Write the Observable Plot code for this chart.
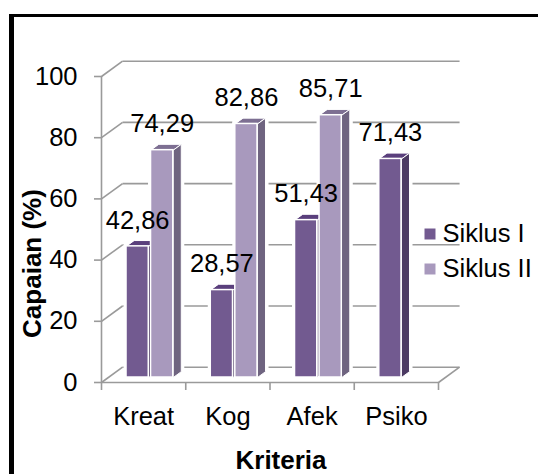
<!DOCTYPE html>
<html><head><meta charset="utf-8">
<script src="https://cdn.jsdelivr.net/npm/d3@7"></script>
<script src="https://cdn.jsdelivr.net/npm/@observablehq/plot@0.6"></script>
<style>
html,body{margin:0;padding:0;background:#fff;width:538px;height:474px;overflow:hidden}
#frame{position:absolute;left:9px;top:14px;right:0;bottom:0;border-left:5px solid #000;border-top:3px solid #000;pointer-events:none}
#chart{position:absolute;left:0;top:0}
svg{font-family:"Liberation Sans",Arial,sans-serif}
</style></head><body>
<div id="chart"></div><div id="frame"></div>
<script>
const categories = ["Kreat","Kog","Afek","Psiko"];
const siklusI = [42.86,28.57,51.43,71.43];
const siklusII = [74.29,82.86,85.71,null];
const labels = ["42,86","28,57","51,43","71,43"];
const labelsII = ["74,29","82,86","85,71",null];
const yTicks = [0,20,40,60,80,100];
const edges = [0,1,2,3,4];
const seriesNames = ["Siklus I","Siklus II"];

const wallDx = 0.25, wallDy = 5, barDx = 0.095, barDy = 1.9;
const grid = "#9a9a9a";
const styles = [
  {name:seriesNames[0], a:0.297, b:0.561, front:"#725a90", top:"#5a3f7c", side:"#4c3a63", values:siklusI, text:labels},
  {name:seriesNames[1], a:0.588, b:0.852, front:"#a899bd", top:"#7d6f92", side:"#6f6480", values:siklusII, text:labelsII}
];
const fronts=[], faces=[], texts=[];
categories.forEach((c,i)=>styles.forEach((s,k)=>{
  const v=s.values[i]; if(v==null) return;
  const x1=i+s.a,x2=i+s.b;
  fronts.push({x1,x2,y:v,fill:s.front});
  texts.push({x:(x1+x2)/2,y:v,t:s.text[i]});
  const side=`s${i}${k}`, top=`t${i}${k}`;
  faces.push(
    {z:top,fill:s.top,x:x1,y:v},{z:top,fill:s.top,x:x2,y:v},{z:top,fill:s.top,x:x2+barDx,y:v+barDy},{z:top,fill:s.top,x:x1+barDx,y:v+barDy},
    {z:side,fill:s.side,x:x2,y:0},{z:side,fill:s.side,x:x2+barDx,y:barDy},{z:side,fill:s.side,x:x2+barDx,y:v+barDy},{z:side,fill:s.side,x:x2,y:v});
}));
const barsOffset=-5;
const font=25.5;
const bold=26;
const left=101, top0=76;
const plot = Plot.plot({
  width:538,height:474,marginLeft:left,marginRight:100,marginTop:top0,marginBottom:92,
  style:{background:"transparent",fontFamily:'"Liberation Sans",Arial,sans-serif',color:"#000"},
  x:{type:"linear",domain:[0,4],label:null},
  y:{domain:[0,100],label:null},
  marks:[
    Plot.link(yTicks,{x1:wallDx,x2:4+wallDx,y1:d=>d+wallDy,y2:d=>d+wallDy,stroke:grid,strokeWidth:1.6}),
    Plot.link(yTicks,{x1:0,x2:wallDx,y1:d=>d,y2:d=>d+wallDy,stroke:grid,strokeWidth:1.6}),
    Plot.link([0],{x1:4,x2:4+wallDx,y1:0,y2:wallDy,stroke:grid,strokeWidth:1.6}),
    Plot.ruleX([0],{y1:0,y2:100,stroke:grid,strokeWidth:1.6}),
    Plot.ruleY([0],{x1:0,x2:4,stroke:grid,strokeWidth:1.6}),
    Plot.axisY({ticks:yTicks,tickSize:7,tickPadding:17,stroke:grid,strokeWidth:1.6,color:"#000",fill:"#000",fontSize:font,label:null}),
    Plot.axisX({ticks:edges,tickSize:8,tickFormat:()=>"",stroke:grid,strokeWidth:1.6,label:null}),
    Plot.axisX({ticks:[0.5,1.5,2.5,3.5],tickSize:0,tickPadding:24,tickFormat:d=>categories[Math.floor(d)],fontSize:font,fill:"#000",label:null}),
    // white halo
    Plot.line(faces,{x:"x",y:"y",z:"z",curve:"linear-closed",fill:"#fff",stroke:"#fff",strokeWidth:6,dy:barsOffset}),
    Plot.rect(fronts,{x1:"x1",x2:"x2",y1:0,y2:"y",fill:"#fff",stroke:"#fff",strokeWidth:5,dy:barsOffset}),
    ...styles.map((s,k)=>[
      Plot.line(faces.filter(f=>f.fill===s.top||f.fill===s.side),{x:"x",y:"y",z:"z",fill:"fill",curve:"linear-closed",stroke:"#fff",strokeWidth:1,dy:barsOffset}),
      Plot.rect(fronts.filter(f=>f.fill===s.front),{x1:"x1",x2:"x2",y1:0,y2:"y",fill:"fill",stroke:"#fff",strokeWidth:1.5,dy:barsOffset})
    ]).flat(),
    Plot.text(texts,{x:"x",y:"y",text:"t",dy:-31,fontSize:font,fill:"#000"}),
    Plot.text(["Capaian (%)"],{text:d=>d,frameAnchor:"top-left",lineAnchor:"middle",textAnchor:"middle",dx:32-left,dy:263-top0,rotate:-90,fontSize:bold,fontWeight:"bold",fill:"#000"}),
    Plot.text(["Kriteria"],{text:d=>d,frameAnchor:"top-left",lineAnchor:"middle",textAnchor:"middle",dx:280.5-left,dy:460-top0,fontSize:bold,fontWeight:"bold",fill:"#000"}),
    ...styles.map((s,k)=>Plot.dot([s.name],{frameAnchor:"top-left",dx:429.5-left,dy:233.5-top0+35*k,symbol:"square",r:6.2,fill:s.front})),
    ...styles.map((s,k)=>Plot.text([s.name],{text:d=>d,frameAnchor:"top-left",lineAnchor:"middle",dx:442-left,dy:233.5-top0+35*k,textAnchor:"start",fontSize:font,fill:"#000"}))
  ]
});
document.getElementById("chart").append(plot);
</script></body></html>
